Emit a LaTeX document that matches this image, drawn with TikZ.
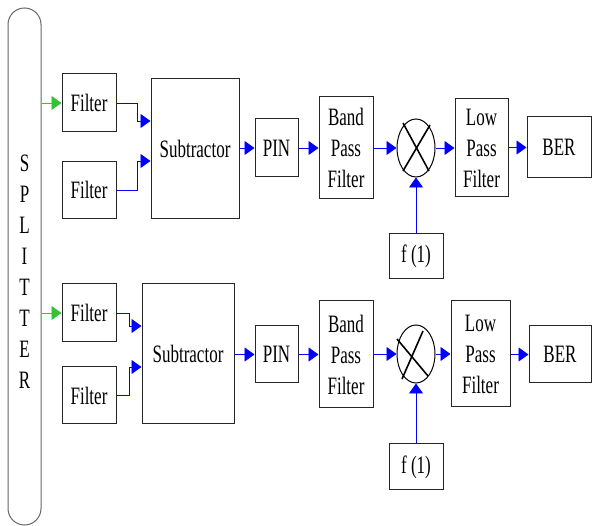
\documentclass[tikz,border=0pt]{standalone}
\usepackage{fontspec}
\setmainfont[FakeStretch=0.68]{Liberation Serif}
\usetikzlibrary{arrows.meta,shapes.geometric}
\begin{document}
\begin{tikzpicture}[x=1pt,y=-1pt,
  blk/.style={draw=black!85, line width=1pt, inner sep=0pt, align=center,
    font=\fontsize{25}{31}\selectfont},
  lett/.style={inner sep=0pt, font=\fontsize{25}{26}\selectfont},
  conn/.style={draw=blue, line width=0.9pt, -{Triangle[length=10pt,width=14pt]}},
  gconn/.style={draw=green!70!black!80!white, line width=0.9pt, -{Triangle[length=10pt,width=14pt]}},
  xline/.style={line width=1.6pt, black}]
\useasboundingbox (0,0) rectangle (592,526);
% splitter
\node[draw=black!60, line width=1pt, minimum width=33pt, minimum height=517pt,
  rounded corners=16.5pt, inner sep=0pt] (split) at (24.5,266.5) {};
\foreach \l [count=\i from 0] in {S,P,L,I,T,T,E,R}
  \node[lett] (let\i) at (24.5,163+31*\i) {\l};
% ---------- top row ----------
\node[blk, minimum width=54pt, minimum height=58pt] (f1) at (89,103) {Filter};
\node[blk, minimum width=54pt, minimum height=57pt] (f2) at (89,190) {Filter};
\node[blk, minimum width=88pt, minimum height=140pt] (sub1) at (195,149) {Subtractor};
\node[blk, minimum width=43pt, minimum height=58pt] (pin1) at (276.5,148) {PIN};
\node[blk, minimum width=54pt, minimum height=102pt] (bpf1) at (346,148) {Band\\Pass\\Filter};
\node[draw=black, line width=1pt, ellipse, minimum width=38pt, minimum height=58pt, inner sep=0pt] (mix1) at (416,148) {};
\node[blk, minimum width=53pt, minimum height=98pt] (lpf1) at (481.5,148) {Low\\Pass\\Filter};
\node[blk, minimum width=64pt, minimum height=61pt] (ber1) at (559,147.5) {BER};
\node[blk, minimum width=54pt, minimum height=45pt] (fo1) at (416,256.5) {f\,(1)};
\draw[xline] (403,123) -- (429,171);
\draw[xline] (430,125) -- (403,171);
\draw[gconn] (split.east |- f1.west) -- (f1.west);
\draw[conn] (f1.east) -- (137,103) |- (sub1.west |- 0,121);
\draw[conn] (f2.east) -- (137,190) |- (sub1.west |- 0,161);
\draw[conn] (sub1.east |- pin1.west) -- (pin1.west);
\draw[conn] (pin1.east) -- (bpf1.west |- pin1.east);
\draw[conn] (bpf1.east |- mix1.west) -- (mix1.west);
\draw[conn] (mix1.east) -- (lpf1.west |- mix1.east);
\draw[conn] (lpf1.east |- ber1.west) -- (ber1.west);
\draw[conn] (fo1.north) -- (mix1.south);
% ---------- bottom row ----------
\node[blk, minimum width=54pt, minimum height=58pt] (f3) at (89,313) {Filter};
\node[blk, minimum width=54pt, minimum height=57pt] (f4) at (89,395.5) {Filter};
\node[blk, minimum width=92pt, minimum height=140pt] (sub2) at (188,354) {Subtractor};
\node[blk, minimum width=43pt, minimum height=57pt] (pin2) at (276.5,354.5) {PIN};
\node[blk, minimum width=54pt, minimum height=107pt] (bpf2) at (346,354.5) {Band\\Pass\\Filter};
\node[draw=black, line width=1pt, ellipse, minimum width=38pt, minimum height=58pt, inner sep=0pt] (mix2) at (416,354) {};
\node[blk, minimum width=59pt, minimum height=106pt] (lpf2) at (480.5,354) {Low\\Pass\\Filter};
\node[blk, minimum width=62pt, minimum height=57pt] (ber2) at (560,354.5) {BER};
\node[blk, minimum width=54pt, minimum height=46pt] (fo2) at (416,467) {f\,(1)};
\draw[xline] (397,339) -- (428,376);
\draw[xline] (423,331) -- (402,379);
\draw[gconn] (split.east |- f3.west) -- (f3.west);
\draw[conn] (f3.east) -- (129,313) |- (sub2.west |- 0,326);
\draw[conn] (f4.east) -- (129,395.5) |- (sub2.west |- 0,367);
\draw[conn] (sub2.east |- pin2.west) -- (pin2.west);
\draw[conn] (pin2.east) -- (bpf2.west |- pin2.east);
\draw[conn] (bpf2.east |- mix2.west) -- (mix2.west);
\draw[conn] (mix2.east) -- (lpf2.west |- mix2.east);
\draw[conn] (lpf2.east |- ber2.west) -- (ber2.west);
\draw[conn] (fo2.north) -- (mix2.south);
\end{tikzpicture}
\end{document}
